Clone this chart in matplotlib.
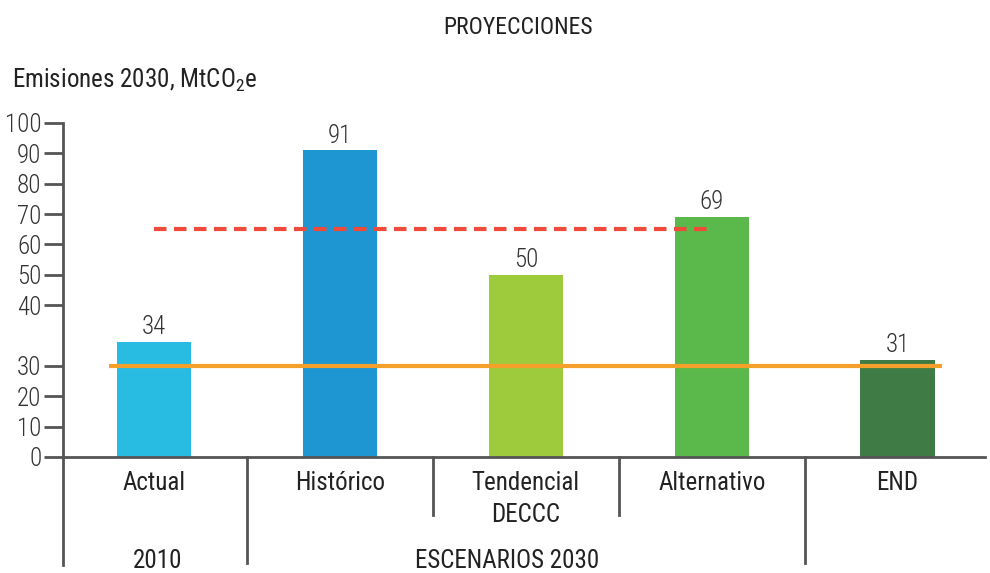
import numpy as np
import matplotlib
matplotlib.use("Agg")
import matplotlib.pyplot as plt
import matplotlib.transforms as mtransforms
from matplotlib import font_manager

installed = {f.name for f in font_manager.fontManager.ttflist}
preferred = ['Roboto Condensed', 'Liberation Sans Narrow', 'Open Sans Condensed',
             'Lato', 'Roboto']
family = [f for f in preferred if f in installed][:1] + ['DejaVu Sans']
plt.rcParams['font.family'] = family

# Data
categories = ["Actual", "Histórico", "Tendencial\nDECCC", "Alternativo", "END"]
values = [34, 91, 50, 69, 31]
bar_colors = ["#29BCE2", "#1E96D2", "#9DCB3B", "#5BB84A", "#3E7B45"]
reference_level = 30      # solid orange line
target_level = 65         # red dashed line
ytick_values = [0, 10, 20, 30, 40, 50, 60, 70, 80, 90, 100]
group_labels = ["2010", "ESCENARIOS 2030"]

# The vertical axis is drawn with a wider gap between 30 and 40
tick_pos = [0, 1, 2, 3, 5, 6, 7, 8, 9, 10, 11]

def forward(v):
    return np.interp(v, ytick_values, tick_pos)

def inverse(p):
    return np.interp(p, tick_pos, ytick_values)

W, H = 990, 573
fig = plt.figure(figsize=(W / 100, H / 100), dpi=100)
ax = fig.add_axes([63 / W, (H - 457) / H, (985 - 63) / W, (457 - 123) / H])
ax.set_yscale('function', functions=(forward, inverse))

x = np.arange(len(categories))
ax.bar(x, values, width=0.4, color=bar_colors, zorder=2)

for xi, v in zip(x, values):
    ax.annotate(str(v), (xi, v), xytext=(0, 2), textcoords='offset points',
                ha='center', va='bottom', fontsize=18, color='#333333',
                fontweight='light')

ax.plot([-0.24, 4.24], [reference_level] * 2, color='#F5A02A', lw=3, zorder=3,
        solid_capstyle='butt')
ax.plot([0.0, 2.98], [target_level] * 2, color='#F04A3A', lw=3, zorder=3,
        dashes=(3.0, 1.8))

ax.set_xlim(-0.49, 4.47)
ax.set_ylim(0, 100)
ax.set_yticks(ytick_values)
ax.set_yticklabels([str(t) for t in ytick_values], fontsize=18, color='#333333',
                   fontweight='light')
ax.set_xticks([])

axis_color = '#555555'
for side in ['top', 'right']:
    ax.spines[side].set_visible(False)
for side in ['left', 'bottom']:
    ax.spines[side].set_color(axis_color)
    ax.spines[side].set_linewidth(2)
ax.tick_params(axis='y', direction='out', length=14, width=2, color=axis_color, pad=1.5)

# Category labels and group separators below the axis
trans = mtransforms.blended_transform_factory(ax.transData, ax.transAxes)
for xi, lab in zip(x, categories):
    ax.text(xi, -0.042, lab, transform=trans, ha='center', va='top',
            fontsize=18, color='#222222', linespacing=1.42)

ax.plot([-0.49, -0.49], [0, -0.323], transform=trans, color=axis_color, lw=2,
        clip_on=False)
for sx, depth in [(0.5, -0.318), (1.5, -0.174), (2.5, -0.174), (3.5, -0.318)]:
    ax.plot([sx, sx], [0, depth], transform=trans, color=axis_color, lw=2,
            clip_on=False)

ax.text(0.02, -0.31, group_labels[0], transform=trans, ha='center', va='center',
        fontsize=18, color='#222222')
ax.text(1.9, -0.31, group_labels[1], transform=trans, ha='center', va='center',
        fontsize=18, color='#222222')

fig.text(518 / W, 1 - 28 / H, "PROYECCIONES", ha='center', va='center',
         fontsize=17, color='#222222')
fig.text(12 / W, 1 - 80 / H, r"Emisiones 2030, MtCO$_\mathregular{2}$e", ha='left',
         va='center', fontsize=18, color='#222222')

fig.savefig("out.png", dpi=100)
